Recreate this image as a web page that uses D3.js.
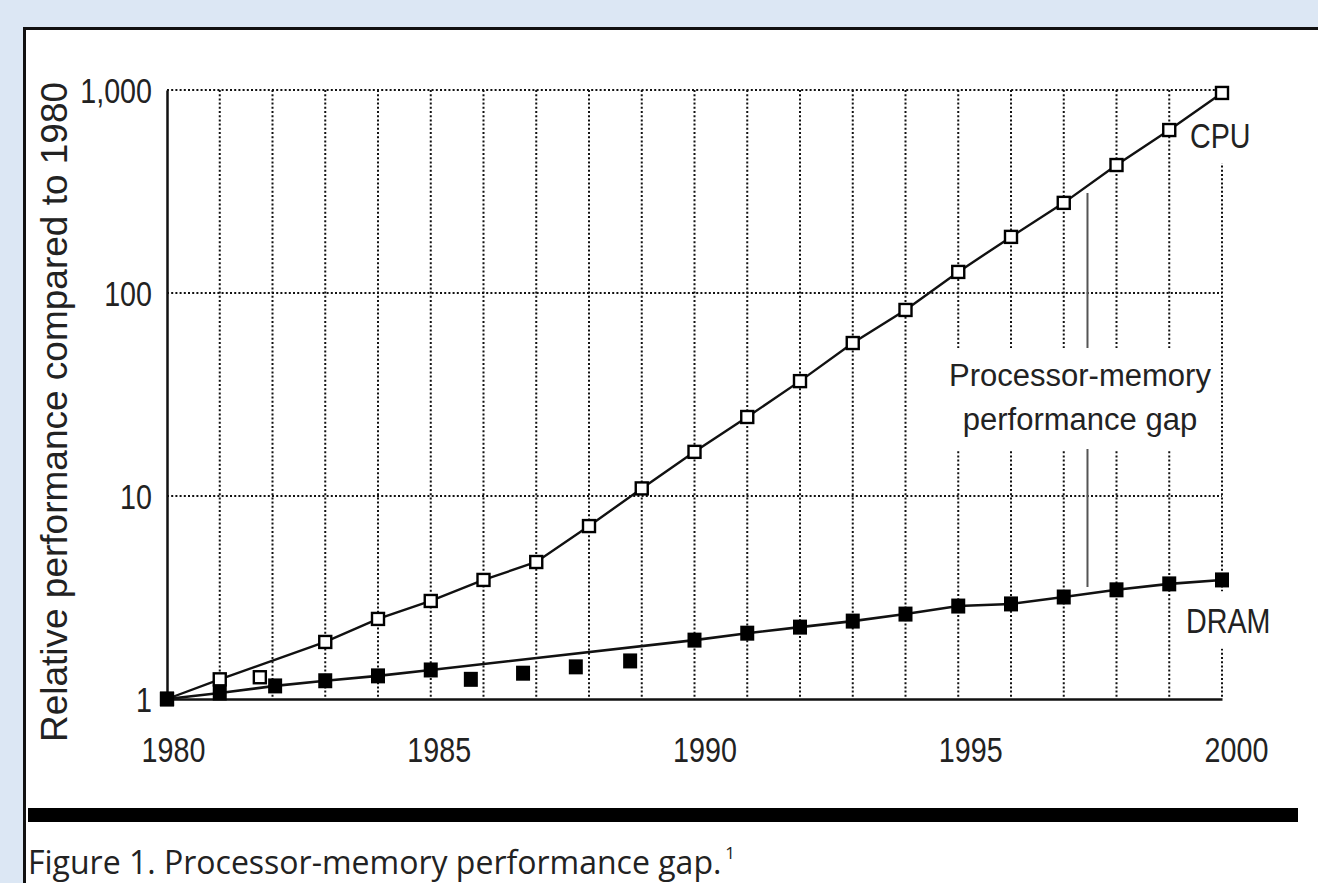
<!DOCTYPE html>
<html>
<head>
<meta charset="utf-8">
<script src="https://cdn.jsdelivr.net/npm/d3@7/dist/d3.min.js"></script>
<style>
  html, body { margin: 0; padding: 0; background: #dce7f4; overflow: hidden; width: 100%; height: 100%; }
  svg { display: block; width: 100vw; height: 100vh; min-width: 1318px; min-height: 883px; }
</style>
</head>
<body>
<svg id="chart"></svg>
<script>
// ---------------- data ----------------
const xTickYears = [1980, 1985, 1990, 1995, 2000];
const xTickLabels = ["1980", "1985", "1990", "1995", "2000"];
const yTickValues = [1, 10, 100, 1000];
const yTickLabels = ["1", "10", "100", "1,000"];

// CPU (hollow squares, connected by line)
const cpuYears  = [1980, 1981, 1983, 1984, 1985, 1986, 1987, 1988, 1989, 1990,
                   1991, 1992, 1993, 1994, 1995, 1996, 1997, 1998, 1999, 2000];
const cpuValues = [1.0, 1.25, 1.91, 2.48, 3.04, 3.86, 4.73, 7.11, 10.9, 16.5,
                   24.5, 36.8, 56.7, 82.5, 127, 189, 278, 427, 635, 967];
// stray CPU point off the line
const cpuExtraYears  = [1981.76];
const cpuExtraValues = [1.28];

// DRAM (filled squares, connected by line)
const dramYears  = [1980, 1981, 1982.05, 1983, 1984, 1985, 1990, 1991, 1992, 1993,
                    1994, 1995, 1996, 1997, 1998, 1999, 2000];
const dramValues = [1.0, 1.07, 1.16, 1.23, 1.30, 1.39, 1.95, 2.11, 2.26, 2.42,
                    2.62, 2.87, 2.94, 3.18, 3.45, 3.69, 3.86];
// stray DRAM points below the line
const dramExtraYears  = [1985.76, 1986.75, 1987.75, 1988.78];
const dramExtraValues = [1.25, 1.34, 1.44, 1.54];

// gap annotation
const gapYear = 1997.45;
const gapRange = [3.56, 311];
const gapLines = ["Processor-memory", "performance gap"];

const yTitle = "Relative performance compared to 1980";
const captionText = "Figure 1. Processor-memory performance gap.";
const captionSup = "1";

// ---------------- drawing ----------------
const svg = d3.select("#chart");
const FONT = "'Liberation Sans', Arial, Helvetica, sans-serif";
const NARROW = 0.82;
const BIG = 4000;

// page + white panel (open to the right and bottom)
svg.append("rect").attr("x", 0).attr("y", 0).attr("width", BIG).attr("height", BIG).attr("fill", "#dce7f4");
svg.append("rect").attr("x", 24).attr("y", 29).attr("width", BIG).attr("height", BIG).attr("fill", "#ffffff");
svg.append("path").attr("d", `M24.5,${BIG} V28.5 H${BIG}`)
  .attr("fill", "none").attr("stroke", "#111").attr("stroke-width", 3);

const x = d3.scaleLinear().domain([1980, 2000]).range([167, 1222]);
const y = d3.scaleLog().domain([1, 1000]).range([699, 90]);
const xLabel = d3.scaleLinear().domain([1980, 2000]).range([173, 1236]);

// grid
const grid = svg.append("g").attr("stroke", "#111").attr("stroke-width", 2)
  .attr("stroke-dasharray", "2,2.2").attr("fill", "none");
grid.selectAll("line.v").data(x.ticks(20).filter(d => d > 1980)).join("line")
  .attr("x1", d => x(d)).attr("x2", d => x(d)).attr("y1", y(1000)).attr("y2", y(1));
grid.selectAll("line.h").data(yTickValues.filter(d => d > 1)).join("line")
  .attr("class", "h")
  .attr("x1", x(1980)).attr("x2", x(2000)).attr("y1", d => y(d)).attr("y2", d => y(d));

// gap vertical line
svg.append("line")
  .attr("x1", x(gapYear)).attr("x2", x(gapYear))
  .attr("y1", y(gapRange[1])).attr("y2", y(gapRange[0]))
  .attr("stroke", "#555").attr("stroke-width", 2);

const bgG = svg.append("g");
const annG = svg.append("g");
function narrowText(g, tx, ty, str, size, anchor) {
  return g.append("text")
    .attr("transform", `translate(${tx},${ty}) scale(${NARROW},1)`)
    .attr("font-family", FONT).attr("font-size", size).attr("fill", "#222")
    .attr("text-anchor", anchor || "start").text(str);
}

// axes
const yAxis = d3.axisLeft(y).tickValues(yTickValues)
  .tickFormat((d, i) => yTickLabels[i]).tickSize(0).tickPadding(0);
const yAxisG = svg.append("g").attr("transform", `translate(${x(1980)},0)`).call(yAxis);
yAxisG.select(".domain").attr("stroke", "#111").attr("stroke-width", 2.5);
yAxisG.selectAll("text")
  .attr("font-family", FONT).attr("font-size", 35).attr("fill", "#222")
  .attr("x", -15 / NARROW).attr("dy", "0.36em")
  .attr("transform", `scale(${NARROW},1)`);

const xAxisLine = d3.axisBottom(x).tickValues([]).tickSizeOuter(0);
const xAxisG = svg.append("g").attr("transform", `translate(0,${y(1)})`).call(xAxisLine);
xAxisG.select(".domain").attr("stroke", "#111").attr("stroke-width", 2.5);

const xAxisLabels = d3.axisBottom(xLabel).tickValues(xTickYears)
  .tickFormat((d, i) => xTickLabels[i]).tickSize(0).tickPadding(0);
const xLabG = svg.append("g").attr("transform", `translate(0,${y(1)})`).call(xAxisLabels);
xLabG.select(".domain").remove();
xLabG.selectAll("text")
  .attr("font-family", FONT).attr("font-size", 35).attr("fill", "#222")
  .attr("y", 63).attr("dy", 0).attr("x", 0)
  .attr("transform", `scale(${NARROW},1)`);

// y axis title
svg.append("text")
  .attr("transform", `translate(67,412) rotate(-90)`)
  .attr("font-family", FONT).attr("font-size", 37).attr("fill", "#222")
  .attr("text-anchor", "middle").text(yTitle);

// series lines
const line = d3.line().x(d => x(d[0])).y(d => y(d[1]));
svg.append("path").datum(cpuYears.map((d, i) => [d, cpuValues[i]]))
  .attr("d", line).attr("fill", "none").attr("stroke", "#111").attr("stroke-width", 2.4);
svg.append("path").datum(dramYears.map((d, i) => [d, dramValues[i]]))
  .attr("d", line).attr("fill", "none").attr("stroke", "#111").attr("stroke-width", 2.6);

// markers
const cpuPts = cpuYears.map((d, i) => [d, cpuValues[i]])
  .concat(cpuExtraYears.map((d, i) => [d, cpuExtraValues[i]]));
const dramPts = dramYears.map((d, i) => [d, dramValues[i]])
  .concat(dramExtraYears.map((d, i) => [d, dramExtraValues[i]]));

const cs = 12;
svg.append("g").selectAll("rect").data(cpuPts).join("rect")
  .attr("x", d => x(d[0]) - cs / 2).attr("y", d => y(d[1]) - cs / 2)
  .attr("width", cs).attr("height", cs).attr("fill", "#fff")
  .attr("stroke", "#000").attr("stroke-width", 2.4);

const dw = 14, dh = 15;
svg.append("g").selectAll("rect").data(dramPts).join("rect")
  .attr("x", d => x(d[0]) - dw / 2).attr("y", d => y(d[1]) - dh / 2)
  .attr("width", dw).attr("height", dh).attr("fill", "#000");

// annotation labels
const cpuT = narrowText(annG, 1190, 148, "CPU", 35);
const dramT = narrowText(annG, 1186, 633, "DRAM", 35);
const gapG = annG.append("g");
gapLines.forEach((s, i) => {
  gapG.append("text").attr("x", 1080).attr("y", 386 + i * 44)
    .attr("font-family", FONT).attr("font-size", 31).attr("fill", "#222")
    .attr("text-anchor", "middle").text(s);
});
annG.raise();

// white boxes behind labels (under the series, over the grid)
function boxBehind(node, padX, padTop, padBottom) {
  const b = node.getBoundingClientRect();
  bgG.append("rect")
    .attr("x", b.left - padX).attr("y", b.top - padTop)
    .attr("width", b.width + 2 * padX).attr("height", b.height + padTop + padBottom)
    .attr("fill", "#fff");
}
boxBehind(cpuT.node(), 6, 24, 8);
boxBehind(dramT.node(), 6, 10, 8);
boxBehind(gapG.node(), 8, 10, 12);

// thick rule + caption
svg.append("rect").attr("x", 28).attr("y", 808).attr("width", 1270).attr("height", 14).attr("fill", "#000");
const cap = svg.append("text").attr("x", 28).attr("y", 874)
  .attr("font-family", "'Open Sans', 'Noto Sans', sans-serif").attr("font-size", 32)
  .attr("fill", "#222");
cap.append("tspan").text(captionText);
cap.append("tspan").attr("dy", -15).attr("dx", 4).attr("font-size", 17).text(captionSup);
</script>
</body>
</html>
